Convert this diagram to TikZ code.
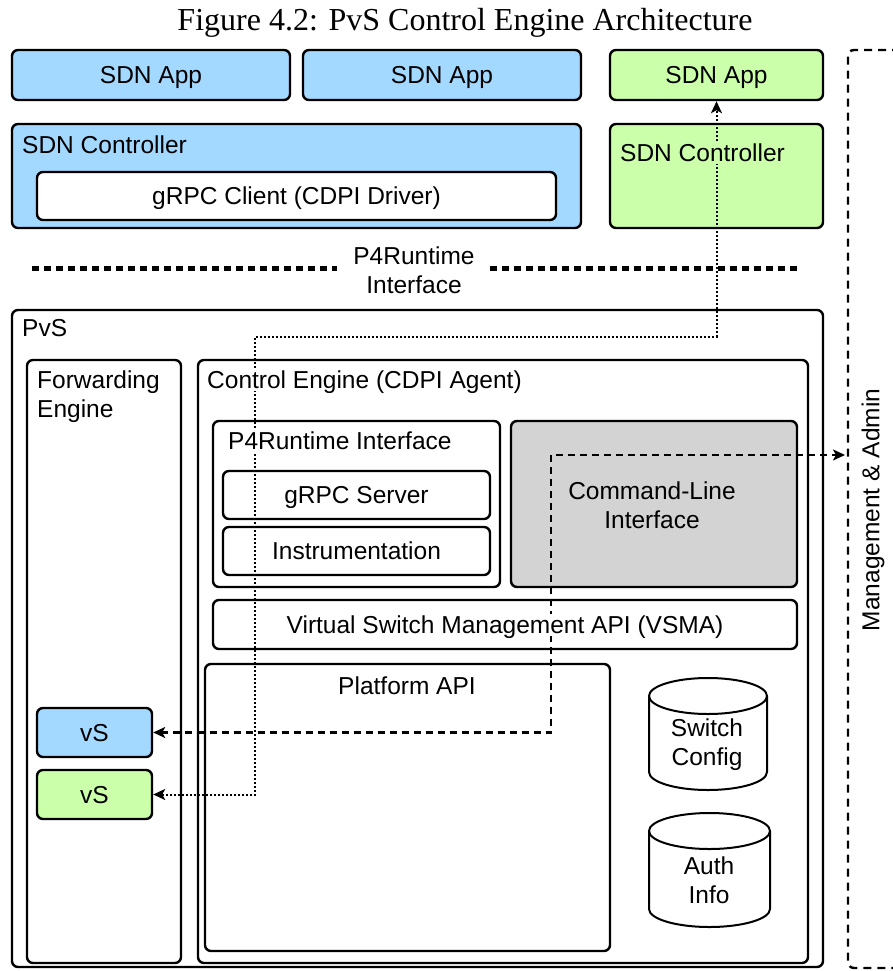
\documentclass[tikz,border=0pt]{standalone}
\usepackage{fontspec}
\setmainfont{Liberation Sans}
\newfontfamily\captionserif{Liberation Serif}
\usetikzlibrary{arrows.meta,fit}

\definecolor{appblue}{RGB}{163,216,255}
\definecolor{appgreen}{RGB}{204,255,170}
\definecolor{cligrey}{RGB}{211,211,211}

% database drum: left, right, top, bottom, end-ellipse radius
\newcommand\drumshape[5]{%
  \pgfmathsetmacro\drumrx{(#2-#1)/2}%
  \filldraw[line width=2pt, fill=white]
    (#1,#3+#5) -- (#1,#4-#5)
    arc[start angle=180, end angle=0, x radius=\drumrx, y radius=#5]
    -- (#2,#3+#5)
    arc[start angle=0, end angle=-180, x radius=\drumrx, y radius=#5]
    -- cycle;
  \draw[line width=2pt] (#1,#3+#5)
    arc[start angle=180, end angle=0, x radius=\drumrx, y radius=#5];
}

\begin{document}
\begin{tikzpicture}[x=1pt, y=-1pt,
  every node/.style={font=\fontsize{24.5}{29}\selectfont},
  box/.style={draw, line width=2.4pt, rounded corners=6pt, inner sep=0pt},
  txt/.style={inner sep=2pt, text height=17.5pt, text depth=0pt},
  dotwire/.style={line width=2pt, dash pattern=on 2pt off 2pt,
    {Stealth[length=12pt, width=11pt, inset=3pt]}-{Stealth[length=12pt, width=11pt, inset=3pt]}},
  dashwire/.style={line width=2.2pt, dash pattern=on 7pt off 5pt,
    {Stealth[length=12pt, width=11pt, inset=3pt]}-{Stealth[length=12pt, width=11pt, inset=3pt]}},
  ifline/.style={line width=5pt, dash pattern=on 7pt off 5pt},
  mgmtline/.style={line width=2.4pt, dash pattern=on 8pt off 6pt, rounded corners=6pt},
]
\useasboundingbox (0,0) rectangle (892,971);

% caption
\node[font=\captionserif\fontsize{32}{36}\selectfont] (caption) at (465,23)
  {Figure 4.2: PvS Control Engine Architecture};

% applications
\node[box, txt, fill=appblue,  minimum width=278pt, minimum height=50pt] (app1) at (151,75) {SDN App};
\node[box, txt, fill=appblue,  minimum width=278pt, minimum height=50pt] (app2) at (442,75) {SDN App};
\node[box, txt, fill=appgreen, minimum width=213pt, minimum height=50pt] (app3) at (716.5,75) {SDN App};

% controllers
\node[box, fill=appblue, fit={(12,124) (581,228)}] (ctlb) {};
\node[txt, anchor=west] (ctlblabel) at (20,145) {SDN Controller};
\node[box, txt, fill=white, minimum width=519pt, minimum height=48pt] (grpcc) at (296.5,196)
  {gRPC Client (CDPI Driver)};
\node[box, fill=appgreen, fit={(610,124) (823,228)}] (ctlg) {};

% northbound interface marker
\node[align=center] (p4if) at (414,270) {P4Runtime\\Interface};
\coordinate (ifa) at (32,268);
\coordinate (ifb) at (337,268);
\coordinate (ifc) at (490,268);
\coordinate (ifd) at (797,268);
\draw[ifline] (ifa) -- (ifb);
\draw[ifline] (ifc) -- (ifd);

% management & admin frame
\draw[mgmtline] (900,50) -| (848,968) -- (900,968);
\node[rotate=90] (mgmt) at (873,510) {Management \& Admin};

% PvS
\node[box, fill=white, fit={(12,310) (823,967)}] (pvs) {};
\node[txt, anchor=west] (pvslabel) at (20,328) {PvS};
\node[box, fill=white, fit={(27,360) (181,963)}] (fwd) {};
\node[anchor=north west, align=left, inner sep=0pt] (fwdlabel) at (37,371)
  {Forwarding\\Engine};
\node[box, fill=white, fit={(198,360) (808,963)}] (ce) {};

\node[box, fill=white, fit={(213,421) (500,587)}] (p4box) {};
\node[box, txt, fill=white, minimum width=267pt, minimum height=48pt] (grpcs) at (356.5,495) {gRPC Server};
\node[box, txt, fill=white, minimum width=267pt, minimum height=48pt] (instr) at (356.5,551) {Instrumentation};
\node[box, fill=cligrey, fit={(511,421) (797,587)}] (cli) {};
\node[align=center] (clilabel) at (652,505) {Command-Line\\Interface};
\node[box, fill=white, fit={(213,600) (797,649)}] (vsma) {};
\node[box, fill=white, fit={(205,664) (610,951)}] (plat) {};
\node[txt] (platlabel) at (407,686) {Platform API};

% stores
\drumshape{649}{767}{678}{790}{18}
\node[align=center] (swcfg) at (707,745) {Switch\\Config};
\drumshape{649}{770}{813}{927}{18}
\node[align=center] (auth) at (709,880) {Auth\\Info};

% virtual switches
\node[box, txt, fill=appblue,  minimum width=115pt, minimum height=49pt] (vsb) at (94.5,732.5) {vS};
\node[box, txt, fill=appgreen, minimum width=115pt, minimum height=49pt] (vsg) at (94.5,794.5) {vS};

% control paths
\coordinate (bendA) at (255,337);
\coordinate (bendB) at (551,455);
\coordinate (mgmtport) at (845,455);
\draw[dotwire] (vsg.east) -| (bendA) -| (app3.south);
\draw[dashwire] (vsb.east) -| (bendB) -- (mgmtport);

% labels laid over the paths
\node[txt, fill=appgreen, anchor=west] (ctlglabel) at (618,153) {SDN Controller};
\node[txt, fill=white, anchor=west] (celabel) at (205,380) {Control Engine (CDPI Agent)};
\node[txt, fill=white, anchor=west] (p4boxlabel) at (226,441) {P4Runtime Interface};
\node[txt, fill=white] (vsmalabel) at (505,625) {Virtual Switch Management API (VSMA)};
\end{tikzpicture}
\end{document}
